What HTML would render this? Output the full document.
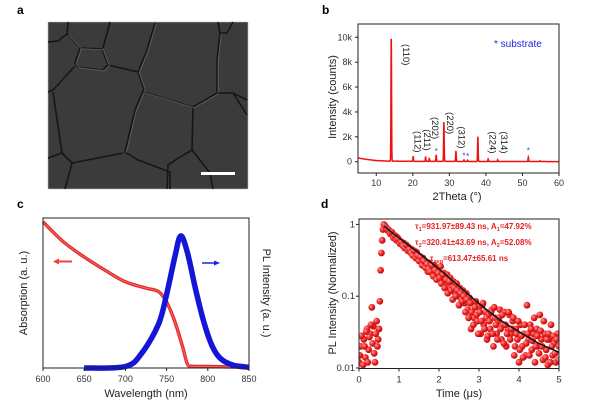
<!DOCTYPE html>
<html><head><meta charset="utf-8"><style>
html,body{margin:0;padding:0;background:#fff;}
svg{display:block;font-family:"Liberation Sans",Arial,sans-serif;}
</style></head><body>
<svg id="fig" width="600" height="404" viewBox="0 0 600 404" xmlns="http://www.w3.org/2000/svg">
<defs>
<radialGradient id="dotg" cx="0.35" cy="0.35" r="0.7">
<stop offset="0" stop-color="#ff9a9a"/><stop offset="0.5" stop-color="#ee2a2a"/><stop offset="1" stop-color="#b80000"/>
</radialGradient>
</defs>
<!-- Panel a -->
<g>
<text x="17" y="14" font-size="12" font-weight="bold">a</text>
<rect x="48" y="22" width="200" height="167" fill="#3b3b3b" stroke="#bbb" stroke-width="0.6"/>
<g fill="none" stroke="#161616" stroke-width="1.6">
<polyline points="155,23 147,50 138,72 144,89 135,110 125,152 138,160 170,172 170,189"/>
<polyline points="144,92 193,107 217,93 233,93 247,100"/>
<polyline points="193,107 192,150 180,157 168,165 167,189"/>
<polyline points="218,22 220,33 227,33 233,22"/>
<polyline points="220,33 217,60 217,92"/>
<polyline points="68,22 67,34 58,41 48,42"/>
<polyline points="67,34 80,48 75,63 78,67 103,70 108,65 102,49 80,48"/>
<polyline points="108,65 138,72"/>
<polyline points="103,48 110,22"/>
<polyline points="75,66 53,90 48,92"/>
<polyline points="53,92 62,153 48,158"/>
<polyline points="62,153 72,163 123,153"/>
<polyline points="72,163 65,189"/>
<polyline points="233,93 247,115"/>
<polyline points="192,150 210,173 213,189"/>
</g>
<g fill="none" stroke="#6a6a6a" stroke-width="1" opacity="0.7" transform="translate(1.3,0.8)">
<polyline points="155,23 147,50 138,72 144,89 135,110 125,152"/>
<polyline points="144,92 193,107 217,93"/>
<polyline points="220,33 217,60 217,92"/>
<polyline points="67,34 80,48 75,63 78,67 103,70 108,65 102,49 80,48"/>
</g>
<rect x="201" y="172" width="34" height="3" fill="#fff"/>
</g>

<g id="pb">
<text x="322" y="14" font-size="12" font-weight="bold">b</text>
</g>
<g id="pc">
<text x="17" y="208" font-size="12" font-weight="bold">c</text>
</g>
<g id="pd">
<text x="321" y="208" font-size="12" font-weight="bold">d</text>
</g>
</svg>
<script>
// ---------- Panel b data ----------
const xrdPeakPos = [14.1, 20.1, 23.5, 24.5, 26.4, 28.5, 31.8, 34.0, 35.0, 37.8, 40.6, 43.2, 51.6, 54.8];
const xrdPeakHeight = [10100, 380, 350, 250, 520, 3200, 850, 120, 110, 2000, 200, 150, 350, 60];
const xrdBaseX = [5, 7, 10, 13, 20, 40, 60];
const xrdBaseY = [300, 200, 90, 50, 30, 15, 10];
const xrdTickX = [10, 20, 30, 40, 50, 60];
const xrdTickY = [0, 2000, 4000, 6000, 8000, 10000];
const xrdTickYLabels = ["0", "2k", "4k", "6k", "8k", "10k"];
const hklLabels = ["(110)", "(112)", "(211)", "(202)", "(220)", "(312)", "(224)", "(314)"];
const hklPos = [16.5, 19.7, 22.2, 24.4, 28.5, 31.7, 40.2, 43.3];
const hklY = [8600, 1600, 1750, 2700, 3100, 1950, 1550, 1550];
const substratePos = [26.4, 34.0, 35.0, 51.6];
const substrateY = [850, 500, 450, 900];

// ---------- Panel c data ----------
const absWl = [600, 625, 650, 675, 700, 725, 740, 750, 760, 770, 775, 780, 800, 850];
const absVal = [0.975, 0.84, 0.74, 0.653, 0.575, 0.533, 0.51, 0.44, 0.31, 0.13, 0.03, 0.012, 0.01, 0.005];
const plWl = [650, 700, 720, 740, 750, 760, 767, 775, 785, 795, 805, 815, 830, 850];
const plVal = [0.0, 0.01, 0.1, 0.29, 0.49, 0.74, 0.88, 0.775, 0.53, 0.31, 0.15, 0.065, 0.02, 0.005];
const wlTicks = [600, 650, 700, 750, 800, 850];

// ---------- Panel d data ----------
const trpl = [0.012,0.02,0.009,0.025,0.014,0.035,0.018,0.03,0.07,0.038,0.012,0.045,0.025,0.085,0.4,0.85,0.97,0.9,0.82,0.8,
0.75,0.72,0.68,0.62,0.66,0.6,0.58,0.52,0.55,0.5,0.46,0.48,0.42,0.45,0.4,0.38,0.41,0.33,0.36,0.3,
0.34,0.28,0.3,0.22,0.29,0.25,0.2,0.27,0.19,0.23,0.2,0.26,0.17,0.21,0.15,0.2,0.13,0.18,0.14,0.16,
0.11,0.15,0.1,0.13,0.09,0.12,0.08,0.11,0.065,0.095,0.035,0.08,0.05,0.085,0.045,0.07,0.03,0.075,0.04,0.06,
0.025,0.055,0.035,0.065,0.02,0.05,0.03,0.045,0.065,0.025,0.04,0.06,0.02,0.035,0.055,0.03,0.045,0.015,0.035,0.025,
0.012,0.04,0.02,0.03,0.015,0.075,0.025,0.04,0.018,0.03,0.012,0.035,0.02,0.055,0.025,0.013,0.03,0.018,0.011,0.025,
0.04,0.015,0.022,0.012,0.03,0.02];
const trpl2 = [0.015,0.028,0.011,0.02,0.032,0.012,0.027,0.04,0.022,0.016,0.03,0.02,0.035,0.23,0.6,1.0,0.93,0.86,0.84,0.74,
0.78,0.65,0.7,0.6,0.63,0.54,0.57,0.5,0.47,0.52,0.43,0.45,0.4,0.37,0.43,0.34,0.37,0.31,0.35,0.27,
0.31,0.25,0.28,0.24,0.22,0.27,0.19,0.23,0.17,0.21,0.18,0.15,0.2,0.13,0.17,0.11,0.16,0.12,0.09,0.13,
0.1,0.12,0.075,0.11,0.085,0.1,0.06,0.09,0.05,0.08,0.06,0.04,0.07,0.055,0.03,0.06,0.045,0.08,0.035,0.05,
0.028,0.045,0.06,0.03,0.07,0.04,0.025,0.05,0.035,0.055,0.022,0.04,0.03,0.06,0.025,0.035,0.05,0.02,0.03,0.045,
0.018,0.028,0.014,0.04,0.022,0.03,0.015,0.035,0.024,0.05,0.02,0.028,0.016,0.033,0.02,0.045,0.014,0.025,0.03,0.012,
0.02,0.028,0.016,0.025,0.013];
const trplStep = 0.04;
const fitT = [0.62, 1, 1.5, 2, 2.5, 3, 3.5, 4, 4.5, 5];
const fitY = [0.955, 0.646, 0.398, 0.24, 0.138, 0.079, 0.048, 0.032, 0.022, 0.0166];
const timeTicks = [0, 1, 2, 3, 4, 5];
const logTicks = [1, 0.1, 0.01];
const logTickLabels = ["1", "0.1", "0.01"];

const NS = "http://www.w3.org/2000/svg";
function mk(parent, tag, attrs, text) {
  const e = document.createElementNS(NS, tag);
  for (const k in attrs) e.setAttribute(k, attrs[k]);
  if (text !== undefined) e.textContent = text;
  parent.appendChild(e);
  return e;
}
function interp(xs, ys, x) {
  if (x <= xs[0]) return ys[0];
  for (let i = 1; i < xs.length; i++) if (x <= xs[i]) { const f = (x - xs[i-1]) / (xs[i] - xs[i-1]); return ys[i-1] + f * (ys[i] - ys[i-1]); }
  return ys[ys.length - 1];
}
function smoothPath(pts) {
  let d = "M" + pts[0][0].toFixed(1) + "," + pts[0][1].toFixed(1);
  for (let i = 0; i < pts.length - 1; i++) {
    const p0 = pts[Math.max(0, i-1)], p1 = pts[i], p2 = pts[i+1], p3 = pts[Math.min(pts.length-1, i+2)];
    const c1 = [p1[0] + (p2[0]-p0[0])/6, p1[1] + (p2[1]-p0[1])/6];
    const c2 = [p2[0] - (p3[0]-p1[0])/6, p2[1] - (p3[1]-p1[1])/6];
    d += "C" + c1[0].toFixed(1) + "," + c1[1].toFixed(1) + " " + c2[0].toFixed(1) + "," + c2[1].toFixed(1) + " " + p2[0].toFixed(1) + "," + p2[1].toFixed(1);
  }
  return d;
}

// ===== Panel b =====
(function(){
  const g = document.getElementById("pb");
  const L = 358, R = 559, T = 24, B = 173;
  const xS = v => L + (v - 5) * (R - L) / 55;
  const yS = v => 161.7 - v * (161.7 - 37.3) / 10000;
  let d = "";
  for (let x = 5; x <= 60; x += 0.04) {
    let y = interp(xrdBaseX, xrdBaseY, x);
    for (let i = 0; i < xrdPeakPos.length; i++) { const dx = (x - xrdPeakPos[i]) / 0.11; y += xrdPeakHeight[i] * Math.exp(-dx*dx); }
    d += (d ? "L" : "M") + xS(x).toFixed(2) + "," + yS(y).toFixed(2);
  }
  const line = mk(g, "path", {d: d, fill: "none", stroke: "#ee1111", "stroke-width": "1.5"});
  
  
  const fr = mk(g, "rect", {x: L, y: T, width: R-L, height: B-T, fill: "none", stroke: "#222", "stroke-width": "1"});
  
  
  xrdTickX.forEach(v => {
    mk(g, "line", {x1: xS(v), x2: xS(v), y1: B, y2: B+3, stroke: "#222"});
    const t = mk(g, "text", {x: xS(v), y: B+13, "font-size": "9", "text-anchor": "middle", fill: "#333"}, String(v));
    
    
  });
  xrdTickY.forEach((v, i) => {
    mk(g, "line", {x1: L-3, x2: L, y1: yS(v), y2: yS(v), stroke: "#222"});
    const t = mk(g, "text", {x: L-6, y: yS(v)+3, "font-size": "9", "text-anchor": "end", fill: "#333"}, xrdTickYLabels[i]);
    
    
  });
  hklLabels.forEach((s, i) => {
    const x = xS(hklPos[i]), y = yS(hklY[i]);
    const t = mk(g, "text", {x: 0, y: 0, "font-size": "9.5", "text-anchor": "middle", fill: "#222", transform: `translate(${x+3},${y}) rotate(90)`}, s);
    
    
  });
  substratePos.forEach((p, i) => {
    const t = mk(g, "text", {x: xS(p), y: yS(substrateY[i]) + 3, "font-size": "8", "text-anchor": "middle", fill: "#3333ee"}, "*");
    
    
  });
  const lg = mk(g, "text", {x: 494, y: 47, "font-size": "10", fill: "#2222dd"}, "* substrate");
  
  
  const yt = mk(g, "text", {x: 0, y: 0, "font-size": "11", "text-anchor": "middle", fill: "#222", transform: "translate(336,97) rotate(-90)"}, "Intensity (counts)");
  
  
  const xt = mk(g, "text", {x: 457, y: 200, "font-size": "11", "text-anchor": "middle", fill: "#222"}, "2Theta (°)");
  
  
})();

// ===== Panel c =====
(function(){
  const g = document.getElementById("pc");
  const L = 43, R = 249, T = 218, B = 368;
  const xS = v => L + (v - 600) * (R - L) / 250;
  const yS = v => B - v * (B - T);
  const absPts = absWl.map((w, i) => [xS(w), yS(absVal[i])]);
  const plPts = plWl.map((w, i) => [xS(w), yS(plVal[i])]);
  const a1 = mk(g, "path", {d: smoothPath(absPts), fill: "none", stroke: "#e52525", "stroke-width": "3.4"});
  
  
  mk(g, "path", {d: smoothPath(absPts), fill: "none", stroke: "#f26a6a", "stroke-width": "1"});
  const p1 = mk(g, "path", {d: smoothPath(plPts), fill: "none", stroke: "#1515d8", "stroke-width": "5.5"});
  
  
  const fr = mk(g, "rect", {x: L, y: T, width: R-L, height: B-T, fill: "none", stroke: "#222", "stroke-width": "1"});
  
  
  wlTicks.forEach(v => {
    mk(g, "line", {x1: xS(v), x2: xS(v), y1: B, y2: B+3, stroke: "#222"});
    const t = mk(g, "text", {x: xS(v), y: B+14, "font-size": "9", "text-anchor": "middle", fill: "#333"}, String(v));
    
    
  });
  const ra = mk(g, "g", {});
  
  
  mk(ra, "line", {x1: 72, x2: 58, y1: 261.5, y2: 261.5, stroke: "#f04040", "stroke-width": "2"});
  mk(ra, "polygon", {points: "53,261.5 59,258.5 59,264.5", fill: "#f04040"});
  const ba = mk(g, "g", {});
  
  
  mk(ba, "line", {x1: 202, x2: 215, y1: 263, y2: 263, stroke: "#2020e0", "stroke-width": "1.5"});
  mk(ba, "polygon", {points: "220,263 214,260.5 214,265.5", fill: "#2020e0"});
  const yl = mk(g, "text", {x: 0, y: 0, "font-size": "11", "text-anchor": "middle", fill: "#222", transform: "translate(27,293) rotate(-90)"}, "Absorption (a. u.)");
  
  
  const yr = mk(g, "text", {x: 0, y: 0, "font-size": "11", "text-anchor": "middle", fill: "#222", transform: "translate(263,293) rotate(90)"}, "PL Intensity (a. u.)");
  
  
  const xt = mk(g, "text", {x: 146, y: 397, "font-size": "11", "text-anchor": "middle", fill: "#222"}, "Wavelength (nm)");
  
  
})();

// ===== Panel d =====
(function(){
  const g = document.getElementById("pd");
  const L = 359, R = 559, T = 219, B = 368.5;
  const xS = v => L + v * (R - L) / 5;
  const yS = v => 368 - (Math.log10(v) + 2) * 71.8;
  const cp = mk(g, "clipPath", {id: "dclip"});
  mk(cp, "rect", {x: L, y: T, width: R-L, height: B-T});
  const pts = mk(g, "g", {"clip-path": "url(#dclip)"});
  
  
  trpl.forEach((v, i) => {
    const c = mk(pts, "circle", {cx: xS(i * trplStep).toFixed(2), cy: yS(v).toFixed(2), r: "3.4", fill: "url(#dotg)"});
    
    
  });
  trpl2.forEach((v, i) => {
    const c = mk(pts, "circle", {cx: xS(trplStep / 2 + i * trplStep).toFixed(2), cy: yS(v).toFixed(2), r: "3.4", fill: "url(#dotg)"});
    
    
  });
  const fit = mk(g, "path", {d: smoothPath(fitT.map((t, i) => [xS(t), yS(fitY[i])])), fill: "none", stroke: "#111", "stroke-width": "1.5"});
  
  
  const fr = mk(g, "rect", {x: L, y: T, width: R-L, height: B-T, fill: "none", stroke: "#222", "stroke-width": "1"});
  
  
  timeTicks.forEach(v => {
    mk(g, "line", {x1: xS(v), x2: xS(v), y1: B, y2: B+3, stroke: "#222"});
    const t = mk(g, "text", {x: xS(v), y: B+14, "font-size": "9.5", "text-anchor": "middle", fill: "#333"}, String(v));
    
    
  });
  logTicks.forEach((v, i) => {
    mk(g, "line", {x1: L-3, x2: L, y1: yS(v), y2: yS(v), stroke: "#222"});
    const t = mk(g, "text", {x: L-4, y: yS(v)+3, "font-size": "9.5", "text-anchor": "end", fill: "#333"}, logTickLabels[i]);
    
    
  });
  const yl = mk(g, "text", {x: 0, y: 0, "font-size": "11", "text-anchor": "middle", fill: "#222", transform: "translate(336,293) rotate(-90)"}, "PL Intensity (Normalized)");
  
  
  const xt = mk(g, "text", {x: 459, y: 397, "font-size": "11", "text-anchor": "middle", fill: "#222"}, "Time (μs)");
  
  
  const a1 = mk(g, "text", {x: 415, y: 229, "font-size": "8", "font-weight": "bold", fill: "#e82020"});
  a1.innerHTML = 'τ<tspan font-size="5.5" dy="2">1</tspan><tspan dy="-2">=931.97±89.43 ns, A</tspan><tspan font-size="5.5" dy="2">1</tspan><tspan dy="-2">=47.92%</tspan>';
  
  
  const a2 = mk(g, "text", {x: 415, y: 245, "font-size": "8", "font-weight": "bold", fill: "#e82020"});
  a2.innerHTML = 'τ<tspan font-size="5.5" dy="2">2</tspan><tspan dy="-2">=320.41±43.69 ns, A</tspan><tspan font-size="5.5" dy="2">2</tspan><tspan dy="-2">=52.08%</tspan>';
  
  
  const a3 = mk(g, "text", {x: 430, y: 261, "font-size": "8", "font-weight": "bold", fill: "#e82020"});
  a3.innerHTML = 'τ<tspan font-size="5.5" dy="2">avg</tspan><tspan dy="-2">=613.47±65.61 ns</tspan>';
  
  
})();
</script>
</body></html>
